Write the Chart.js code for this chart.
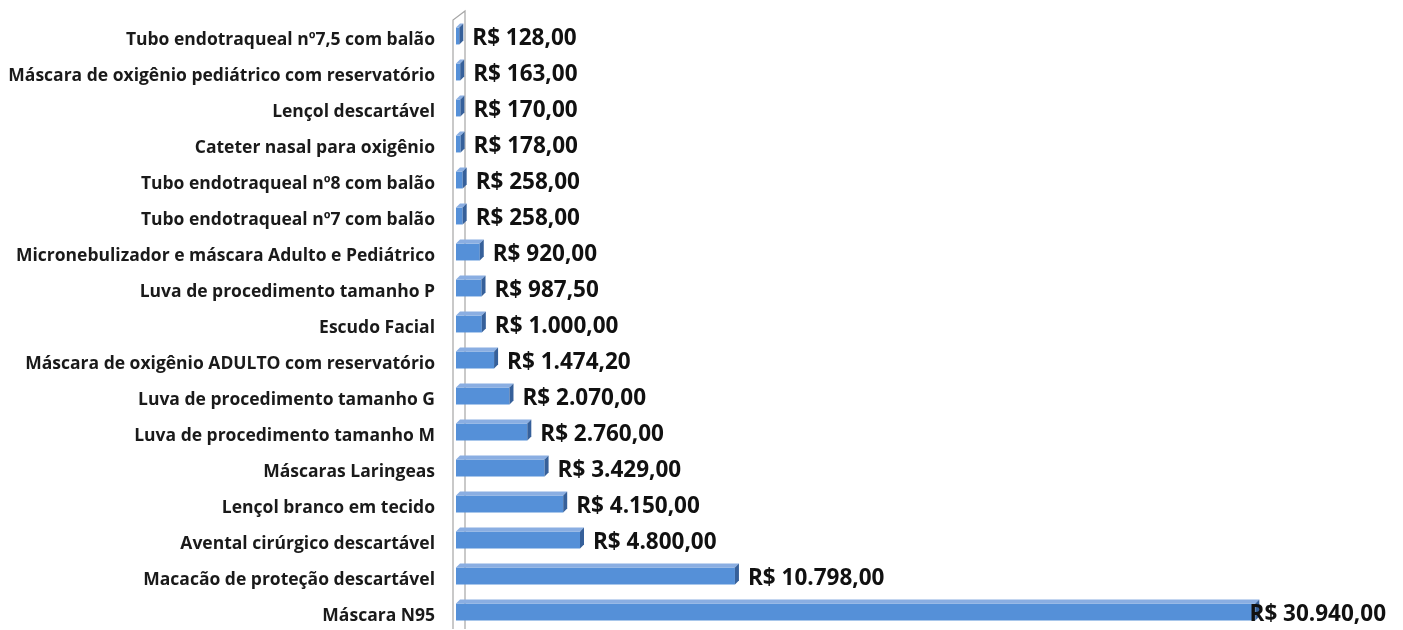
<!DOCTYPE html>
<html>
<head>
<meta charset="utf-8">
<script src="https://cdn.jsdelivr.net/npm/chart.js@4.4.0/dist/chart.umd.min.js"></script>
<style>
  html, body { margin: 0; padding: 0; background: #fff; }
  #wrap { width: 1403px; height: 630px; }
</style>
</head>
<body>
<div id="wrap"><canvas id="myBarChart"></canvas></div>
<script>
// itens e valores gastos (R$)
var itens = [
  'Tubo endotraqueal nº7,5 com balão',
  'Máscara de oxigênio pediátrico com reservatório',
  'Lençol descartável',
  'Cateter nasal para oxigênio',
  'Tubo endotraqueal nº8 com balão',
  'Tubo endotraqueal nº7 com balão',
  'Micronebulizador e máscara Adulto e Pediátrico',
  'Luva de procedimento tamanho P',
  'Escudo Facial',
  'Máscara de oxigênio ADULTO com reservatório',
  'Luva de procedimento tamanho G',
  'Luva de procedimento tamanho M',
  'Máscaras Laringeas',
  'Lençol branco em tecido',
  'Avental cirúrgico descartável',
  'Macacão de proteção descartável',
  'Máscara N95'
];
var valores = [128, 163, 170, 178, 258, 258, 920, 987.5, 1000, 1474.2, 2070, 2760, 3429, 4150, 4800, 10798, 30940];

function reais(v) {
  return 'R$ ' + v.toLocaleString('pt-BR', { minimumFractionDigits: 2, maximumFractionDigits: 2 });
}

var DEPTH = 4;

// parede lateral e faces 3D das barras
var efeito3d = {
  id: 'efeito3d',
  beforeDatasetsDraw: function (chart) {
    var ctx = chart.ctx, a = chart.chartArea;
    ctx.save();
    ctx.strokeStyle = '#a6a6a6';
    ctx.lineWidth = 1.2;
    ctx.beginPath();
    ctx.moveTo(a.left - 3, 629);
    ctx.lineTo(a.left - 3, 20);
    ctx.lineTo(a.left + 9, 11);
    ctx.lineTo(a.left + 9, 629);
    ctx.stroke();
    ctx.restore();
  },
  afterDatasetsDraw: function (chart) {
    var ctx = chart.ctx, a = chart.chartArea;
    var meta = chart.getDatasetMeta(0);
    ctx.save();
    meta.data.forEach(function (bar, i) {
      var top = bar.y - bar.height / 2, bot = bar.y + bar.height / 2;
      var x0 = bar.base, x1 = bar.x;
      // face superior
      ctx.fillStyle = '#8aaee2';
      ctx.beginPath();
      ctx.moveTo(x0, top);
      ctx.lineTo(x0 + DEPTH, top - DEPTH);
      ctx.lineTo(x1 + DEPTH, top - DEPTH);
      ctx.lineTo(x1, top);
      ctx.closePath();
      ctx.fill();
      // face lateral
      ctx.fillStyle = '#36609a';
      ctx.beginPath();
      ctx.moveTo(x1, top);
      ctx.lineTo(x1 + DEPTH, top - DEPTH);
      ctx.lineTo(x1 + DEPTH, bot - DEPTH);
      ctx.lineTo(x1, bot);
      ctx.closePath();
      ctx.fill();
      // rótulo de valor (recuado se passar da área do gráfico)
      var txt = reais(valores[i]);
      ctx.fillStyle = '#111111';
      ctx.font = 'bold 22.5px "Open Sans"';
      ctx.textBaseline = 'middle';
      ctx.textAlign = 'left';
      var tx = x1 + DEPTH + 9;
      var w = ctx.measureText(txt).width;
      if (tx + w > a.right) tx = a.right - w;
      ctx.fillText(txt, tx, bar.y + 3);
    });
    ctx.restore();
  }
};

var ctxBar = document.getElementById('myBarChart').getContext('2d');
var myChart = new Chart(ctxBar, {
  type: 'bar',
  data: {
    labels: itens,
    datasets: [{
      data: valores,
      backgroundColor: '#5590d8',
      borderWidth: 0,
      barPercentage: 0.47,
      categoryPercentage: 1
    }]
  },
  options: {
    indexAxis: 'y',
    responsive: true,
    maintainAspectRatio: false,
    animation: false,
    layout: { padding: { top: 18, bottom: 0, left: 0, right: 17 } },
    plugins: {
      legend: { display: false },
      tooltip: { enabled: false }
    },
    scales: {
      x: {
        min: 0,
        max: 36000,
        display: false
      },
      y: {
        grid: { display: false },
        border: { display: false },
        afterFit: function (scale) {
          scale.width = 456;
          scale.paddingTop = 0;
          scale.paddingBottom = 0;
        },
        ticks: {
          padding: 13,
          labelOffset: 4,
          color: '#1a1a1a',
          font: { family: 'Open Sans', size: 17.5, weight: 'bold' }
        }
      }
    }
  },
  plugins: [efeito3d]
});
</script>
</body>
</html>
